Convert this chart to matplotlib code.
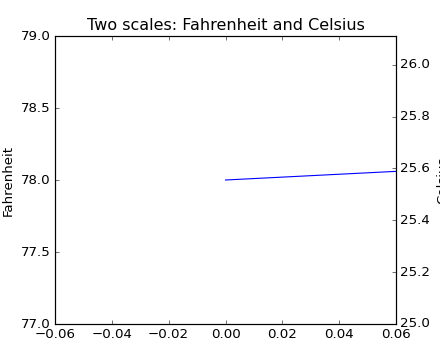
import matplotlib
matplotlib.use("Agg")
import matplotlib.pyplot as plt

plt.style.use("classic")

x_vals = [0.0, 1.0]
fahrenheit = [78.0, 79.0]
x_limits = [-0.06, 0.06]
f_limits = [77.0, 79.0]


def f2c(t):
    return (5.0 / 9.0) * (t - 32)


fig, ax_f = plt.subplots(figsize=(5.5, 4.5), dpi=80)
ax_c = ax_f.twinx()
ax_f.plot(x_vals, fahrenheit)
ax_f.set_xlim(*x_limits)
ax_f.set_ylim(*f_limits)
ax_c.set_ylim(f2c(f_limits[0]), f2c(f_limits[1]))
ax_f.set_title("Two scales: Fahrenheit and Celsius")
ax_f.set_ylabel("Fahrenheit")
ax_c.set_ylabel("Celsius")
fig.savefig("out.png", dpi=80)
